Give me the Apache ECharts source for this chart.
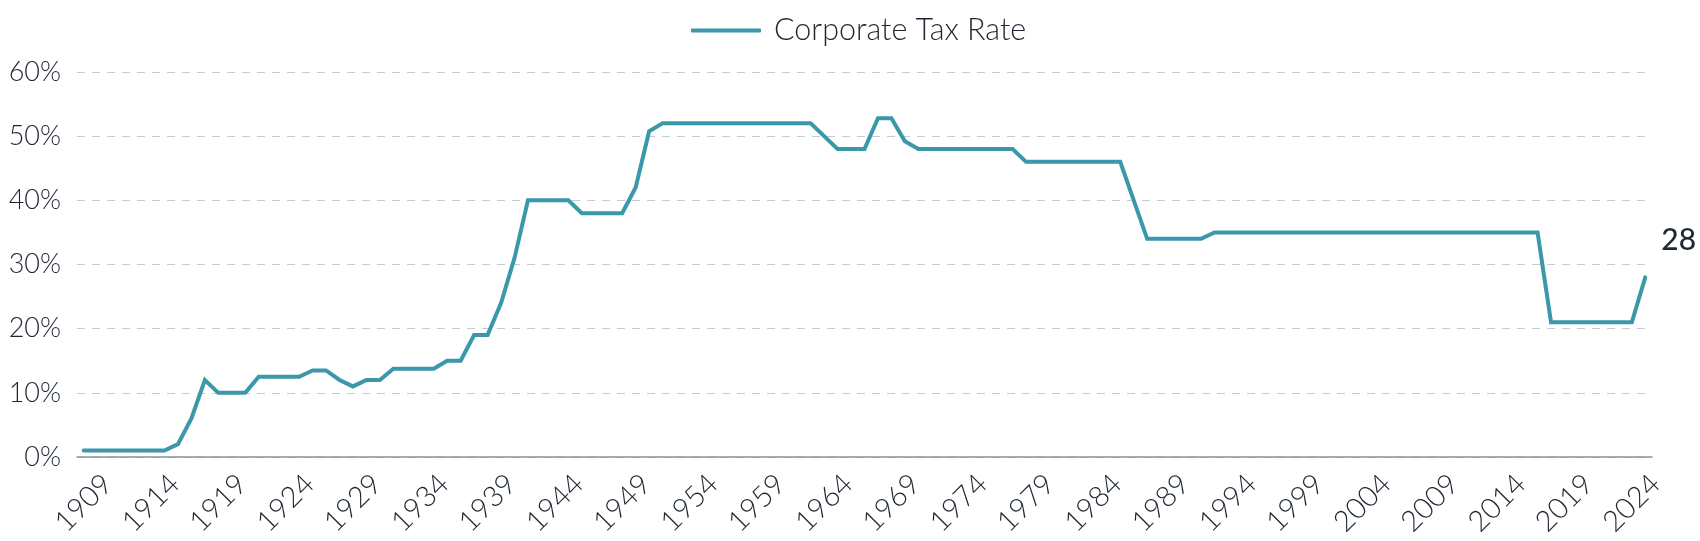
<!DOCTYPE html>
<html>
<head>
<meta charset="utf-8">
<script src="https://cdn.jsdelivr.net/npm/echarts@6/dist/echarts.min.js"></script>
<style>
html,body{margin:0;padding:0;background:#fff;}
#chart{width:1700px;height:541px;}
</style>
</head>
<body>
<div id="chart"></div>
<script>
const years = [
1909,1910,1911,1912,1913,1914,1915,1916,1917,1918,1919,1920,1921,1922,1923,1924,1925,1926,1927,1928,
1929,1930,1931,1932,1933,1934,1935,1936,1937,1938,1939,1940,1941,1942,1943,1944,1945,1946,1947,1948,
1949,1950,1951,1952,1953,1954,1955,1956,1957,1958,1959,1960,1961,1962,1963,1964,1965,1966,1967,1968,
1969,1970,1971,1972,1973,1974,1975,1976,1977,1978,1979,1980,1981,1982,1983,1984,1985,1986,1987,1988,
1989,1990,1991,1992,1993,1994,1995,1996,1997,1998,1999,2000,2001,2002,2003,2004,2005,2006,2007,2008,
2009,2010,2011,2012,2013,2014,2015,2016,2017,2018,2019,2020,2021,2022,2023,2024,2025
].map(String);

const seriesName = 'Corporate Tax Rate';
const corporateTaxRate = [
1,1,1,1,1,1,1,2,6,12,10,10,10,12.5,12.5,12.5,12.5,13.5,13.5,12,
11,12,12,13.75,13.75,13.75,13.75,15,15,19,19,24,31,40,40,40,40,38,38,38,
38,42,50.75,52,52,52,52,52,52,52,52,52,52,52,52,50,48,48,48,52.8,
52.8,49.2,48,48,48,48,48,48,48,48,46,46,46,46,46,46,46,46,40,34,
34,34,34,34,35,35,35,35,35,35,35,35,35,35,35,35,35,35,35,35,
35,35,35,35,35,35,35,35,35,21,21,21,21,21,21,21,28
];
const yTicks = [0,10,20,30,40,50,60];

const FONT = 'Lato, "Noto Sans", sans-serif';
const TXT = '#1e2731';
const chart = echarts.init(document.getElementById('chart'), null, {renderer:'canvas'});
chart.setOption({
  animation: false,
  backgroundColor: '#ffffff',
  legend: {
    top: 10,
    left: 686,
    icon: 'roundRect',
    itemWidth: 70,
    itemHeight: 4,
    textStyle: {fontFamily: FONT, fontWeight: 300, fontSize: 30.5, color: TXT, padding:[0,0,0,8]},
    data: [seriesName]
  },
  grid: {left: 77, right: 48, top: 72, bottom: 84, containLabel: false, outerBoundsMode: 'none'},
  xAxis: {
    type: 'category',
    data: years,
    boundaryGap: true,
    axisLine: {show: true, lineStyle: {color: '#8c939c', width: 1.5}},
    axisTick: {show: false},
    splitLine: {show: false},
    axisLabel: {
      interval: 4,
      rotate: 45,
      align: 'center',
      verticalAlign: 'middle',
      margin: 46,
      fontFamily: FONT, fontWeight: 300, fontSize: 29, color: TXT
    }
  },
  yAxis: {
    type: 'value',
    min: yTicks[0],
    max: yTicks[yTicks.length-1],
    interval: 10,
    axisLine: {show: false},
    axisTick: {show: false},
    axisLabel: {
      formatter: '{value}%',
      margin: 16,
      fontFamily: FONT, fontWeight: 300, fontSize: 27, color: TXT
    },
    splitLine: {show: true, lineStyle: {color: '#c6cbd3', width: 1.2, type: [8,7]}}
  },
  series: [{
    name: seriesName,
    type: 'line',
    data: corporateTaxRate,
    showSymbol: false,
    symbol: 'none',
    itemStyle: {color: '#3a98aa'},
    lineStyle: {color: '#3a98aa', width: 4, cap: 'round', join: 'miter'},
    endLabel: {
      show: true,
      formatter: p => String(p.value),
      distance: 0,
      offset: [16, -37],
      fontFamily: FONT, fontWeight: 500, fontSize: 30, color: '#1f2933'
    }
  }]
});
</script>
</body>
</html>
